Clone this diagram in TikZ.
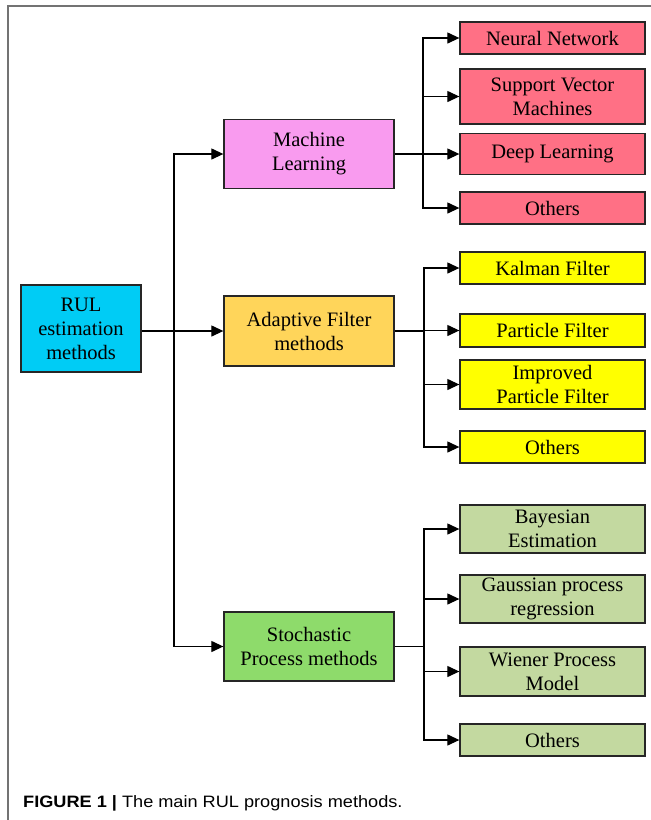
\documentclass[tikz,border=0pt]{standalone}
\usepackage{fontspec}
\setmainfont{Liberation Serif}
\newfontfamily\capfont[FakeStretch=1.1]{Liberation Sans}
\usetikzlibrary{arrows.meta}

\definecolor{rulcol}{HTML}{00CCF5}
\definecolor{mlcol}{HTML}{F99BEF}
\definecolor{afcol}{HTML}{FFD55A}
\definecolor{spcol}{HTML}{8EDB6B}
\definecolor{redcol}{HTML}{FF7085}
\definecolor{yelcol}{HTML}{FFFF00}
\definecolor{grncol}{HTML}{C3D9A0}

\tikzset{
    box/.style={draw=black!85, line width=1.3pt, align=center, inner sep=2pt,
        font=\fontsize{20.5}{24}\selectfont},
    mid/.style={box, minimum width=170pt, minimum height=69pt},
    leaf/.style={box, minimum width=185pt},
    arr/.style={-{Triangle[length=12pt,width=11pt]}, line width=1.2pt},
    frameline/.style={draw=black!55, line width=1.5pt}
}

\begin{document}
\begin{tikzpicture}[x=1pt, y=-1pt]
    \useasboundingbox (0,0) rectangle (651,820);
    \draw[frameline] (8,820) -- (8,6) -- (651,6);

    \node[box, fill=rulcol, minimum width=120pt, minimum height=87pt] (RUL) at (81,328.5) {RUL\\estimation\\methods};

    \node[mid, fill=mlcol] (ML) at (309,154) {Machine\\Learning};
    \node[mid, fill=afcol, minimum height=70pt] (AF) at (309,331) {Adaptive Filter\\methods};
    \node[mid, fill=spcol] (SP) at (309,646.5) {Stochastic\\Process methods};

    \node[leaf, fill=redcol, minimum height=32pt] (NN) at (552.5,38) {Neural Network};
    \node[leaf, fill=redcol, minimum height=55pt] (SVM) at (552.5,96.5) {Support Vector\\Machines};
    \node[leaf, fill=redcol, minimum height=41pt] (DL) at (552.5,154) {Deep Learning};
    \node[leaf, fill=redcol, minimum height=32pt] (MO) at (552.5,208) {Others};

    \node[leaf, fill=yelcol, minimum height=32pt] (KF) at (552.5,268) {Kalman Filter};
    \node[leaf, fill=yelcol, minimum height=33pt] (PF) at (552.5,330.5) {Particle Filter};
    \node[leaf, fill=yelcol, minimum height=49pt] (IPF) at (552.5,384.5) {Improved\\Particle Filter};
    \node[leaf, fill=yelcol, minimum height=32pt] (AO) at (552.5,447) {Others};

    \node[leaf, fill=grncol, minimum height=48pt] (BE) at (552.5,529) {Bayesian\\Estimation};
    \node[leaf, fill=grncol, minimum height=48pt] (GPR) at (552.5,599) {Gaussian process\\regression};
    \node[leaf, fill=grncol, minimum height=49pt] (WPM) at (552.5,671.5) {Wiener Process\\Model};
    \node[leaf, fill=grncol, minimum height=32pt] (SO) at (552.5,740) {Others};

    % trunk
    \coordinate (T) at (174,331);
    \draw[arr] (RUL.east |- AF.west) -- (AF.west);
    \draw[arr] (T) |- (ML.west);
    \draw[arr] (T) |- (SP.west);

    % machine learning branch
    \coordinate (MB) at (423,154);
    \draw[arr] (ML.east) -- (DL.west);
    \draw[arr] (MB) |- (NN.west);
    \draw[arr] (MB) |- (SVM.west);
    \draw[arr] (MB) |- (MO.west);

    % adaptive filter branch
    \coordinate (AB) at (424,331);
    \draw[arr] (AF.east) -- (AB) |- (PF.west);
    \draw[arr] (AB) |- (KF.west);
    \draw[arr] (AB) |- (IPF.west);
    \draw[arr] (AB) |- (AO.west);

    % stochastic branch
    \coordinate (SB) at (424,646.5);
    \draw[line width=1.2pt] (SP.east) -- (SB);
    \draw[arr] (SB) |- (BE.west);
    \draw[arr] (SB) |- (GPR.west);
    \draw[arr] (SB) |- (WPM.west);
    \draw[arr] (SB) |- (SO.west);

    \node[anchor=base west, inner sep=0pt, font=\capfont\fontsize{16.5}{18}\selectfont] (CAP) at (23,807)
        {\textbf{FIGURE 1 |} The main RUL prognosis methods.};
\end{tikzpicture}
\end{document}
